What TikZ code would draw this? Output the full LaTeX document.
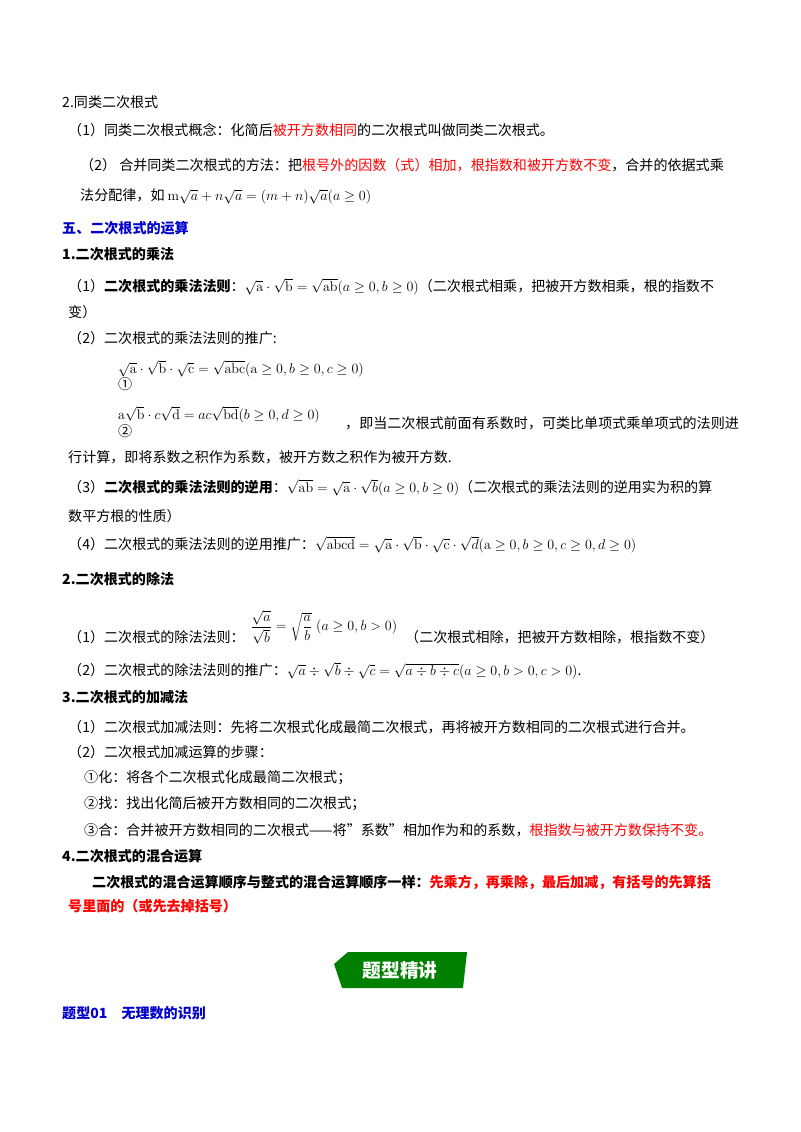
\documentclass[tikz,border=0pt]{standalone}
\usepackage{fontspec}
\newfontfamily\cjk{Noto Sans CJK SC}
\newcommand{\rd}[1]{\textcolor{red}{#1}}
\newcommand{\rb}[1]{\textcolor{red}{\bfseries #1}}
\begin{document}
\begin{tikzpicture}[x=0.03cm,y=-0.03cm,
  t/.style={anchor=west,inner sep=0pt,font=\cjk\fontsize{12}{14}\selectfont},
  hb/.style={t,text=blue!80!black,font=\cjk\fontsize{12}{14}\selectfont\bfseries}]
\useasboundingbox (0,0) rectangle (800,1132);
\node[t] (l1) at (62,102) {2.同类二次根式};
\node[t] (l2) at (68,130) {（1）同类二次根式概念：化简后\rd{被开方数相同}的二次根式叫做同类二次根式。};
\node[t] (l3) at (80,165) {（2） 合并同类二次根式的方法：把\rd{根号外的因数（式）相加，根指数和被开方数不变}，合并的依据式乘};
\node[t] (l4) at (80,196) {法分配律，如 $\mathrm{m}\sqrt{a}+n\sqrt{a}=(m+n)\sqrt{a}(a\ge 0)$};
\node[hb] (h5) at (62,228) {五、二次根式的运算};
\node[t] (l6) at (62,254) {\bfseries 1.二次根式的乘法};
\node[t] (l7) at (68,287) {（1）\textbf{二次根式的乘法法则}：$\sqrt{\mathrm{a}}\cdot\sqrt{\mathrm{b}}=\sqrt{\mathrm{ab}}(a\ge0,b\ge0)$（二次根式相乘，把被开方数相乘，根的指数不};
\node[t] (l8) at (68,312) {变）};
\node[t] (l9) at (68,338) {（2）二次根式的乘法法则的推广:};
\node[t] (f1) at (118,369) {$\sqrt{\mathrm{a}}\cdot\sqrt{\mathrm{b}}\cdot\sqrt{\mathrm{c}}=\sqrt{\mathrm{abc}}(\mathrm{a}\ge0,b\ge0,c\ge0)$};
\node[t] (c1) at (118,384) {①};
\node[t] (f2) at (118,415) {$\mathrm{a}\sqrt{\mathrm{b}}\cdot c\sqrt{\mathrm{d}}=ac\sqrt{\mathrm{bd}}(b\ge0,d\ge0)$};
\node[t] (c2) at (118,431) {②};
\node[t] (l10) at (345,423) {，即当二次根式前面有系数时，可类比单项式乘单项式的法则进};
\node[t] (l11) at (68,457) {行计算，即将系数之积作为系数，被开方数之积作为被开方数.};
\node[t] (l12) at (68,488) {（3）\textbf{二次根式的乘法法则的逆用}：$\sqrt{\mathrm{ab}}=\sqrt{\mathrm{a}}\cdot\sqrt{b}(a\ge0,b\ge0)$（二次根式的乘法法则的逆用实为积的算};
\node[t] (l13) at (68,516) {数平方根的性质）};
\node[t] (l14) at (68,545) {（4）二次根式的乘法法则的逆用推广：$\sqrt{\mathrm{abcd}}=\sqrt{\mathrm{a}}\cdot\sqrt{\mathrm{b}}\cdot\sqrt{\mathrm{c}}\cdot\sqrt{d}(\mathrm{a}\ge0,b\ge0,c\ge0,d\ge0)$};
\node[t] (l15) at (62,579) {\bfseries 2.二次根式的除法};
\node[t] (l16) at (68,637) {（1）二次根式的除法法则：};
\node[t] (f3) at (250,627) {$\displaystyle\frac{\sqrt{a}}{\sqrt{b}}=\sqrt{\frac{a}{b}}\;(a\ge0,b>0)$};
\node[t] (l17) at (405,637) {（二次根式相除，把被开方数相除，根指数不变）};
\node[t] (l18) at (68,671) {（2）二次根式的除法法则的推广：$\sqrt{a}\div\sqrt{b}\div\sqrt{c}=\sqrt{a\div b\div c}(a\ge0,b>0,c>0)$.};
\node[t] (l19) at (62,697) {\bfseries 3.二次根式的加减法};
\node[t] (l20) at (68,727) {（1）二次根式加减法则：先将二次根式化成最简二次根式，再将被开方数相同的二次根式进行合并。};
\node[t] (l21) at (68,752) {（2）二次根式加减运算的步骤：};
\node[t] (l22) at (84,778) {①化：将各个二次根式化成最简二次根式；};
\node[t] (l23) at (84,804) {②找：找出化简后被开方数相同的二次根式；};
\node[t] (l24) at (84,830) {③合：合并被开方数相同的二次根式——将”系数”相加作为和的系数，\rd{根指数与被开方数保持不变。}};
\node[t] (l25) at (62,856) {\bfseries 4.二次根式的混合运算};
\node[t] (l26) at (92,882) {\bfseries 二次根式的混合运算顺序与整式的混合运算顺序一样：\rb{先乘方，再乘除，最后加减，有括号的先算括}};
\node[t] (l27) at (68,906) {\rb{号里面的（或先去掉括号）}};
\fill[green!50!black] (348,952) -- (467,952) -- (463,988) -- (342,988) -- (334,964) -- cycle;
\node[font=\cjk\fontsize{16}{18}\selectfont\bfseries,text=white] (ban) at (400,970) {题型精讲};
\node[hb] (h28) at (62,1013) {题型01\quad 无理数的识别};
\end{tikzpicture}
\end{document}
